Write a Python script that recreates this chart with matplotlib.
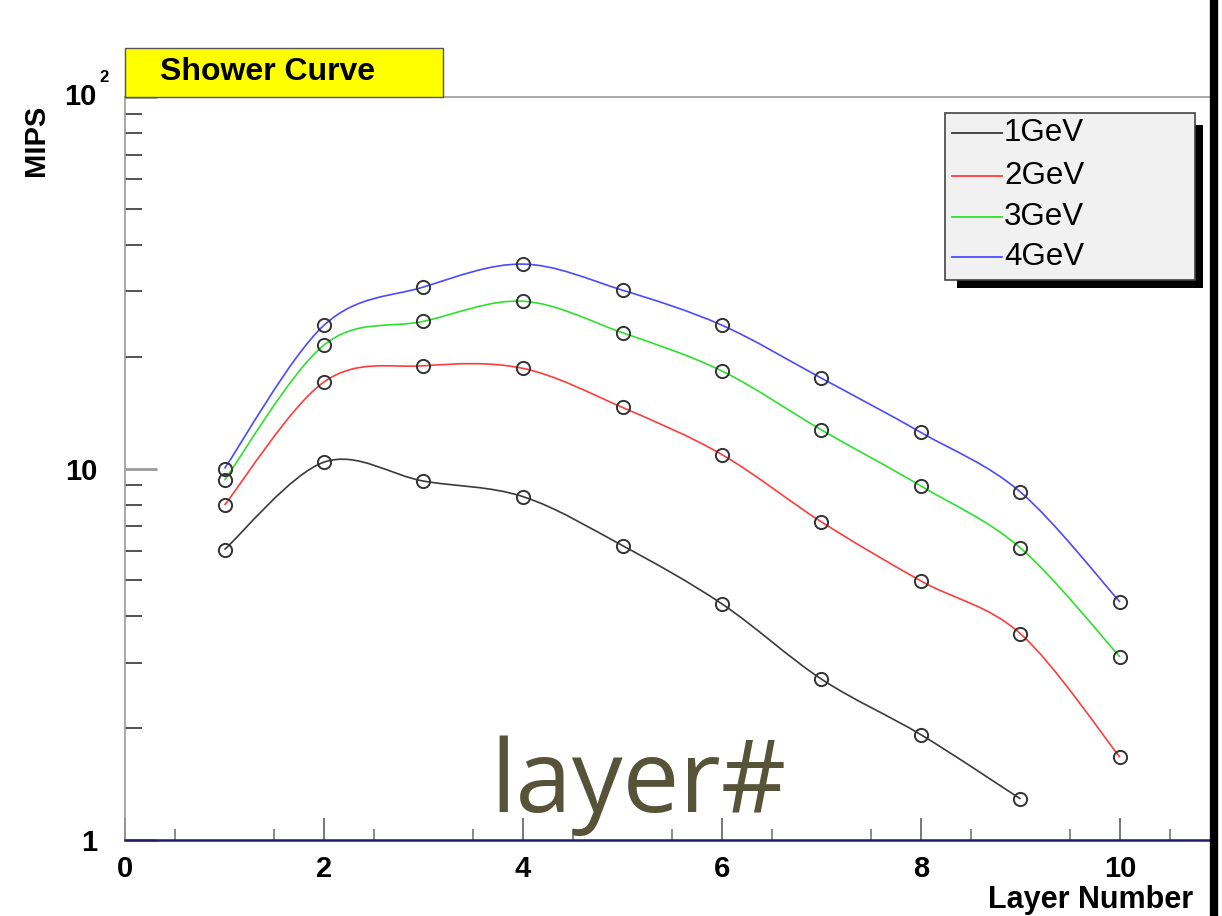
import numpy as np
import matplotlib
matplotlib.use("Agg")
import matplotlib.pyplot as plt
from matplotlib.path import Path
from matplotlib.patches import PathPatch, Rectangle
from matplotlib.lines import Line2D
from matplotlib.ticker import FixedLocator, NullFormatter, FixedFormatter

# ---------------- data ----------------
layers = [1, 2, 3, 4, 5, 6, 7, 8, 9, 10]
mips_1gev = [6.05, 10.4, 9.25, 8.4, 6.2, 4.32, 2.71, 1.92, 1.29]
mips_2gev = [7.97, 17.1, 18.9, 18.6, 14.6, 10.9, 7.18, 4.98, 3.59, 1.67]
mips_3gev = [9.3, 21.5, 24.9, 28.2, 23.2, 18.3, 12.7, 8.97, 6.11, 3.11]
mips_4gev = [10.0, 24.3, 30.8, 35.5, 30.2, 24.3, 17.5, 12.5, 8.64, 4.37]
series_labels = ["1GeV", "2GeV", "3GeV", "4GeV"]
series_values = [mips_1gev, mips_2gev, mips_3gev, mips_4gev]
series_colors = ["#3a3a3a", "#ff3c3c", "#2ee02e", "#4a4aff"]
x_ticks = [0, 2, 4, 6, 8, 10]
y_ticks = [1, 10, 100]

W, H = 1222, 916
fig = plt.figure(figsize=(W / 100, H / 100), dpi=100)
fig.patch.set_facecolor("white")

def fx(px):
    return px / W

def fy(py):
    return 1 - py / H

ax_l, ax_r, ax_t, ax_b = 125, 1214, 97, 840
ax = fig.add_axes([fx(ax_l), fy(ax_b), (ax_r - ax_l) / W, (ax_b - ax_t) / H])
ax.set_yscale("log")
ax.set_xlim(0, (ax_r - ax_l) / 99.5)
ax.set_ylim(1, 100)

bold = dict(family=["Liberation Sans", "DejaVu Sans"], weight="bold")
normal = dict(family=["Liberation Sans", "DejaVu Sans"])


def smooth_path(xs, ys):
    P = np.column_stack([np.asarray(xs, float), np.log10(np.asarray(ys, float))])
    n = len(P)
    verts = [P[0]]
    codes = [Path.MOVETO]
    for i in range(n - 1):
        p0 = P[i - 1] if i > 0 else P[i]
        p1 = P[i]
        p2 = P[i + 1]
        p3 = P[i + 2] if i + 2 < n else P[i + 1]
        c1 = p1 + (p2 - p0) / 6.0
        c2 = p2 - (p3 - p1) / 6.0
        verts += [c1, c2, p2]
        codes += [Path.CURVE4] * 3
    V = np.array(verts)
    V[:, 1] = 10 ** V[:, 1]
    return Path(V, codes)


for vals, col in zip(series_values, series_colors):
    xs = layers[: len(vals)]
    ax.add_patch(PathPatch(smooth_path(xs, vals), facecolor="none",
                           edgecolor=col, lw=1.2, zorder=3))
    ax.plot(xs, vals, "o", mfc="none", mec="#333333", ms=9.5, mew=1.4, zorder=4)

# spines
for s in ["top", "left"]:
    ax.spines[s].set_color("#9a9a9a")
    ax.spines[s].set_linewidth(1.2)
ax.spines["right"].set_visible(False)
ax.spines["bottom"].set_color("#1c1c70")
ax.spines["bottom"].set_linewidth(1.8)

# ticks
ax.xaxis.set_major_locator(FixedLocator(x_ticks))
ax.xaxis.set_minor_locator(FixedLocator(np.arange(0.5, 11, 1.0)))
ax.set_xticklabels([str(v) for v in x_ticks], fontsize=21, **bold)
ax.tick_params(axis="x", which="major", direction="in", length=16, width=1.4,
               color="#777777", pad=11)
ax.tick_params(axis="x", which="minor", direction="in", length=8, width=1.2,
               color="#777777")

minor_y = [m * d for d in [1, 10] for m in range(2, 10)]
ax.yaxis.set_major_locator(FixedLocator(y_ticks))
ax.yaxis.set_minor_locator(FixedLocator(minor_y))
ax.yaxis.set_minor_formatter(NullFormatter())
ax.yaxis.set_major_formatter(FixedFormatter(["1", "10", ""]))
for lab in ax.get_yticklabels():
    lab.set_fontsize(21)
    lab.set_fontweight("bold")
    lab.set_family(["Liberation Sans", "DejaVu Sans"])
ax.tick_params(axis="y", which="major", direction="in", length=23, width=2,
               color="#9a9a9a", pad=20)
ax.tick_params(axis="y", which="minor", direction="in", length=12, width=1.3,
               color="#444444")

# ---------- overlay for ROOT-style decorations ----------
ov = fig.add_axes([0, 0, 1, 1], zorder=10)
ov.set_xlim(0, W)
ov.set_ylim(H, 0)
ov.axis("off")
ov.patch.set_alpha(0)

# 10^2 label
ov.text(97, 97, "10", ha="right", va="center", fontsize=21, **bold)
ov.text(99, 78, "2", ha="left", va="center", fontsize=12, **bold)

# axis titles
ov.text(36, 140, "MIPS", rotation=90, ha="center", va="center", fontsize=21, **bold)
ov.text(988, 900, "Layer Number", ha="left", va="center", fontsize=22, **bold)

# title box
ov.add_patch(Rectangle((125, 48), 318, 49, facecolor="#ffff00",
                       edgecolor="#555555", lw=1.0))
ov.text(160, 72, "Shower Curve", ha="left", va="center", fontsize=23, **bold)

# legend with shadow
ov.add_patch(Rectangle((957, 125), 246, 163, facecolor="black", edgecolor="black", lw=0))
ov.add_patch(Rectangle((945, 113), 250, 167, facecolor="#f1f1f1",
                       edgecolor="#444444", lw=1.2))
rows_y = [133, 176, 217, 257]
for lab, col, yy in zip(series_labels, series_colors, rows_y):
    ov.add_line(Line2D([952, 1002], [yy, yy], color=col, lw=1.3))
    ov.text(1004, yy, lab, ha="left", va="center", fontsize=22.5, **normal)

# big annotation
ov.text(490, 812, "layer#", ha="left", va="baseline", fontsize=73,
        color="#575338", family=["Open Sans", "DejaVu Sans"])

# thick right border
ov.add_line(Line2D([1214, 1214], [4, 916], color="black", lw=6))

fig.savefig("out.png", dpi=100, facecolor="white")
